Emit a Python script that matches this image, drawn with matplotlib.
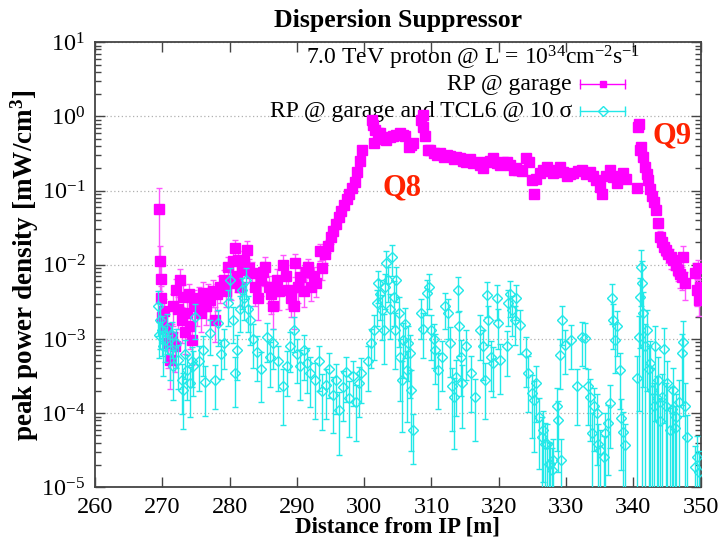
import numpy as np
import matplotlib
matplotlib.use("Agg")
import matplotlib.pyplot as plt
from matplotlib.ticker import LogLocator, NullFormatter

# RP @ garage (x in m, value as log10 of mW/cm3, relative error)
magenta_x = [
    269.55, 269.65, 269.75, 269.85, 269.95, 270.2, 270.5, 270.8, 271.1, 271.4,
    271.6, 271.9, 272.1, 272.4, 272.6, 272.9, 273.1, 273.4, 273.6, 273.9,
    274.1, 274.4, 274.7, 275.1, 275.5, 275.8, 276.1, 276.5, 276.8, 277.1,
    277.5, 277.8, 278.2, 278.6, 279.1, 279.5, 279.8, 280.2, 280.5, 280.8,
    281.1, 281.3, 281.6, 281.8, 282.2, 282.6, 282.9, 283.3, 283.8, 284.2,
    284.6, 285.0, 285.3, 285.8, 286.2, 286.5, 287.0, 287.4, 288.0, 288.4,
    288.7, 289.1, 289.5, 289.7, 290.1, 290.5, 291.0, 291.3, 291.7, 292.1,
    292.5, 292.9, 293.4, 293.8, 294.2, 294.6, 295.0, 295.4, 295.8, 296.2,
    296.6, 297.0, 297.4, 297.8, 298.2, 298.6, 299.0, 299.4, 299.7, 301.1,
    301.3, 301.4, 301.6, 302.0, 302.3, 302.8, 303.3, 303.8, 304.3, 304.8,
    305.3, 305.8, 306.1, 306.6, 307.0, 307.3, 308.5, 308.7, 308.8, 309.0,
    309.5, 309.8, 310.3, 310.8, 311.3, 311.8, 312.3, 312.8, 313.3, 313.7,
    314.2, 314.7, 315.2, 315.7, 316.2, 316.7, 317.2, 317.7, 318.2, 318.7,
    319.2, 319.7, 320.2, 320.7, 321.2, 321.7, 322.2, 322.6, 322.9, 323.5,
    324.1, 324.5, 324.9, 325.2, 325.6, 326.1, 326.6, 327.1, 327.6, 328.1,
    328.6, 329.1, 329.6, 330.1, 330.6, 331.1, 331.7, 332.3, 332.9, 333.6,
    334.0, 334.5, 335.0, 335.3, 335.9, 336.5, 337.0, 337.5, 338.0, 338.5,
    338.9, 340.5, 340.7, 340.8, 341.0, 341.2, 341.5, 341.7, 342.0, 342.2,
    342.5, 342.7, 343.0, 343.4, 343.6, 344.0, 344.3, 344.5, 344.9, 345.2,
    345.6, 345.9, 346.3, 346.7, 347.0, 347.2, 347.4, 347.7, 349.2, 349.4,
    349.6, 349.7, 349.9,
]
magenta_exp = [
    -1.25, -1.95, -2.19, -2.45, -2.70, -2.62, -2.85, -3.05, -3.28, -2.97,
    -2.56, -3.10, -2.34, -2.60, -2.20, -2.75, -2.43, -2.90, -2.65, -2.40,
    -2.83, -3.01, -2.50, -2.56, -2.45, -2.65, -2.38, -2.55, -2.40, -2.47,
    -2.35, -2.74, -2.40, -2.30, -2.20, -2.35, -2.03, -2.25, -1.95, -1.78,
    -2.15, -1.94, -2.30, -2.07, -1.95, -1.80, -2.05, -2.11, -2.30, -2.45,
    -2.20, -2.10, -2.03, -2.30, -2.40, -2.56, -2.20, -2.35, -2.00, -2.15,
    -2.34, -2.45, -2.56, -1.98, -2.30, -2.16, -2.35, -2.10, -2.03, -2.30,
    -2.15, -2.25, -1.82, -2.05, -1.85, -1.75, -1.62, -1.55, -1.45, -1.35,
    -1.28, -1.20, -1.12, -1.05, -0.97, -0.88, -0.75, -0.60, -0.45, -0.05,
    -0.12, -0.36, -0.18, -0.22, -0.23, -0.30, -0.32, -0.28, -0.27, -0.25,
    -0.23, -0.25, -0.27, -0.41, -0.38, -0.36, -0.05, 0.02, -0.14, -0.27,
    -0.45, -0.45, -0.50, -0.52, -0.50, -0.55, -0.52, -0.54, -0.57, -0.55,
    -0.56, -0.60, -0.61, -0.58, -0.63, -0.61, -0.66, -0.70, -0.62, -0.60,
    -0.56, -0.63, -0.65, -0.62, -0.61, -0.66, -0.72, -0.70, -0.72, -0.74,
    -0.56, -0.62, -0.86, -1.04, -0.85, -0.77, -0.72, -0.68, -0.74, -0.77,
    -0.72, -0.68, -0.75, -0.81, -0.78, -0.77, -0.74, -0.72, -0.78, -0.75,
    -0.80, -0.86, -0.95, -1.04, -0.80, -0.72, -0.82, -0.90, -0.80, -0.77,
    -0.85, -0.97, -0.14, -0.10, -0.45, -0.41, -0.55, -0.68, -0.78, -0.86,
    -0.98, -1.08, -1.15, -1.26, -1.44, -1.62, -1.70, -1.76, -1.80, -1.85,
    -1.90, -1.94, -2.00, -2.07, -2.12, -2.16, -1.89, -2.25, -2.11, -2.34,
    -2.05, -2.47, -2.30,
]
magenta_err = [
    0.9, 0.6, 0.5, 0.45, 0.4, 0.45, 0.5, 0.55, 0.6, 0.5,
    0.45, 0.55, 0.4, 0.45, 0.4, 0.5, 0.45, 0.5, 0.45, 0.4,
    0.5, 0.55, 0.45, 0.45, 0.4, 0.45, 0.4, 0.45, 0.4, 0.45,
    0.4, 0.5, 0.4, 0.4, 0.35, 0.4, 0.35, 0.4, 0.35, 0.3,
    0.4, 0.35, 0.45, 0.35, 0.35, 0.3, 0.35, 0.4, 0.45, 0.5,
    0.4, 0.35, 0.35, 0.4, 0.45, 0.5, 0.4, 0.45, 0.35, 0.4,
    0.45, 0.45, 0.5, 0.35, 0.4, 0.35, 0.4, 0.35, 0.3, 0.35,
    0.3, 0.35, 0.25, 0.3, 0.25, 0.2, 0.2, 0.18, 0.15, 0.15,
    0.12, 0.12, 0.1, 0.1, 0.08, 0.08, 0.07, 0.06, 0.06, 0.05,
    0.05, 0.06, 0.05, 0.05, 0.05, 0.06, 0.05, 0.05, 0.05, 0.05,
    0.05, 0.05, 0.05, 0.06, 0.06, 0.06, 0.05, 0.05, 0.05, 0.05,
    0.06, 0.06, 0.05, 0.05, 0.05, 0.05, 0.05, 0.05, 0.06, 0.05,
    0.05, 0.06, 0.06, 0.05, 0.06, 0.06, 0.06, 0.07, 0.06, 0.06,
    0.05, 0.06, 0.06, 0.06, 0.06, 0.06, 0.07, 0.07, 0.07, 0.07,
    0.05, 0.06, 0.08, 0.1, 0.08, 0.07, 0.07, 0.06, 0.07, 0.07,
    0.07, 0.06, 0.07, 0.08, 0.07, 0.07, 0.07, 0.07, 0.07, 0.07,
    0.07, 0.08, 0.09, 0.1, 0.07, 0.07, 0.08, 0.08, 0.07, 0.07,
    0.06, 0.06, 0.05, 0.05, 0.05, 0.05, 0.06, 0.06, 0.07, 0.08,
    0.08, 0.1, 0.1, 0.12, 0.15, 0.2, 0.2, 0.25, 0.2, 0.25,
    0.3, 0.25, 0.3, 0.3, 0.35, 0.35, 0.4, 0.4, 0.35, 0.4,
    0.3, 0.4, 0.35,
]

# RP @ garage and TCL6 @ 10 sigma
cyan_x = [
    269.4, 269.55, 269.7, 269.9, 270.1, 270.4, 270.7, 271.1, 271.4, 271.6,
    272.0, 272.4, 272.9, 273.1, 273.4, 273.6, 274.1, 274.4, 274.6, 274.9,
    275.5, 276.1, 276.4, 277.1, 277.8, 278.3, 278.7, 279.1, 279.8, 280.1,
    280.5, 280.8, 281.1, 281.5, 281.8, 282.2, 282.5, 282.8, 283.0, 283.5,
    284.0, 284.7, 285.5, 286.0, 286.5, 287.2, 288.0, 288.5, 289.0, 289.5,
    290.0, 290.5, 291.0, 291.5, 292.0, 292.7, 293.3, 293.8, 294.3, 294.8,
    295.3, 295.8, 296.3, 296.8, 297.3, 297.8, 298.3, 298.8, 299.2, 299.6,
    300.5, 301.0, 301.4, 301.9, 302.1, 302.4, 302.6, 302.9, 303.1, 303.3,
    303.6, 303.9, 304.1, 304.4, 304.6, 304.8, 305.1, 305.3, 305.6, 305.8,
    306.0, 306.3, 306.5, 306.8, 307.0, 307.3, 308.5, 308.8, 309.3, 309.6,
    310.0, 310.3, 310.5, 311.0, 311.5, 312.0, 312.5, 312.8, 313.1, 313.3,
    313.6, 313.9, 314.1, 314.4, 314.6, 315.2, 315.9, 316.4, 317.2, 317.7,
    318.0, 318.2, 318.4, 318.9, 319.2, 319.7, 319.9, 320.2, 321.2, 321.4,
    321.7, 321.9, 322.4, 322.6, 323.1, 324.1, 324.4, 324.9, 325.2, 325.6,
    326.0, 326.4, 326.6, 326.9, 327.1, 327.4, 327.6, 327.9, 328.1, 328.6,
    328.8, 329.1, 329.3, 329.4, 329.8, 330.8, 331.6, 332.3, 332.8, 333.3,
    333.6, 333.8, 334.1, 334.6, 334.8, 335.0, 335.6, 335.8, 336.3, 336.5,
    336.8, 337.0, 337.3, 337.5, 338.0, 338.2, 338.5, 338.7, 340.5, 340.8,
    341.0, 341.2, 341.3, 341.5, 341.7, 342.0, 342.3, 342.5, 342.7, 343.0,
    343.2, 343.5, 343.7, 344.0, 344.2, 344.5, 344.8, 345.0, 345.4, 345.7,
    345.9, 346.2, 346.4, 346.8, 347.2, 347.4, 347.6, 347.9, 349.2, 349.5,
    349.8,
]
cyan_exp = [
    -2.56, -2.95, -2.74, -2.88, -3.10, -3.01, -2.85, -3.15, -2.95, -3.37,
    -3.05, -3.28, -3.55, -3.69, -3.20, -3.42, -3.60, -3.30, -3.37, -2.70,
    -3.30, -3.15, -3.58, -2.92, -3.55, -2.79, -3.20, -3.06, -2.52, -2.20,
    -2.75, -3.46, -3.15, -2.60, -2.34, -2.45, -2.20, -2.60, -2.74, -3.00,
    -3.17, -3.40, -2.97, -3.25, -3.06, -3.30, -3.64, -3.37, -3.10, -2.88,
    -3.20, -3.37, -3.15, -3.33, -3.46, -3.55, -3.30, -3.70, -3.62, -3.40,
    -3.75, -3.55, -3.96, -3.65, -3.45, -3.80, -3.50, -3.85, -3.60, -3.46,
    -3.30, -3.05, -2.88, -2.52, -2.25, -2.40, -2.61, -2.88, -2.30, -1.98,
    -2.20, -2.60, -1.89, -2.43, -2.88, -2.20, -2.65, -3.24, -3.55, -3.01,
    -2.80, -3.42, -3.05, -3.19, -3.69, -4.23, -2.65, -2.86, -2.38, -2.30,
    -2.88, -3.00, -3.15, -3.42, -3.24, -2.56, -2.65, -3.06, -3.64, -3.78,
    -3.51, -2.34, -2.83, -3.24, -3.60, -3.10, -3.46, -3.78, -2.88, -3.10,
    -3.55, -2.41, -2.74, -3.24, -3.33, -2.45, -2.79, -3.28, -3.10, -2.52,
    -2.40, -2.61, -2.74, -2.45, -2.81, -3.19, -3.46, -3.73, -3.82, -3.60,
    -4.05, -4.32, -4.23, -4.41, -4.41, -4.68, -4.68, -4.77, -4.63, -3.91,
    -4.09, -3.22, -4.63, -2.74, -3.08, -3.01, -3.64, -2.97, -2.99, -3.64,
    -3.78, -4.27, -3.91, -4.00, -4.41, -4.50, -4.59, -4.27, -4.14, -3.87,
    -2.45, -2.74, -3.01, -2.83, -3.42, -4.07, -4.25, -4.43, -3.53, -2.97,
    -2.43, -2.03, -2.25, -2.65, -3.10, -2.88, -3.40, -3.33, -3.69, -3.90,
    -3.10, -3.80, -3.55, -4.10, -3.78, -3.13, -3.90, -3.60, -4.23, -3.95,
    -3.69, -4.20, -4.05, -3.85, -3.19, -3.04, -3.90, -4.32, -4.72, -4.59,
    -4.80,
]
cyan_err = [
    0.6, 0.5, 0.6, 0.55, 0.6, 0.5, 0.55, 0.6, 0.5, 0.65,
    0.55, 0.6, 0.65, 0.7, 0.55, 0.6, 0.65, 0.55, 0.6, 0.5,
    0.6, 0.55, 0.65, 0.5, 0.6, 0.5, 0.55, 0.55, 0.5, 0.45,
    0.5, 0.65, 0.6, 0.5, 0.45, 0.5, 0.45, 0.5, 0.55, 0.6,
    0.6, 0.65, 0.55, 0.6, 0.55, 0.6, 0.7, 0.6, 0.55, 0.5,
    0.6, 0.65, 0.6, 0.6, 0.65, 0.7, 0.6, 0.7, 0.65, 0.6,
    0.7, 0.65, 0.75, 0.65, 0.6, 0.7, 0.6, 0.7, 0.65, 0.6,
    0.6, 0.55, 0.6, 0.5, 0.45, 0.55, 0.6, 0.65, 0.5, 0.45,
    0.5, 0.6, 0.45, 0.6, 0.7, 0.5, 0.65, 0.75, 0.8, 0.7,
    0.65, 0.8, 0.7, 0.75, 0.85, 0.65, 0.55, 0.6, 0.5, 0.5,
    0.6, 0.6, 0.65, 0.7, 0.65, 0.5, 0.55, 0.65, 0.75, 0.8,
    0.7, 0.5, 0.6, 0.7, 0.75, 0.65, 0.7, 0.75, 0.6, 0.65,
    0.7, 0.5, 0.55, 0.65, 0.65, 0.5, 0.55, 0.65, 0.6, 0.5,
    0.5, 0.55, 0.55, 0.5, 0.6, 0.65, 0.7, 0.75, 0.8, 0.7,
    0.8, 0.85, 0.8, 0.9, 0.85, 0.95, 0.9, 1.0, 0.9, 0.75,
    0.8, 0.65, 0.9, 0.55, 0.6, 0.6, 0.7, 0.6, 0.6, 0.7,
    0.75, 0.85, 0.75, 0.8, 0.85, 0.9, 0.9, 0.85, 0.8, 0.75,
    0.55, 0.6, 0.65, 0.6, 0.7, 0.8, 0.85, 0.9, 1.0, 0.9,
    0.8, 0.7, 1.0, 0.9, 1.0, 0.85, 1.0, 1.0, 1.0, 1.0,
    0.9, 1.0, 1.0, 1.0, 1.0, 0.9, 1.0, 1.0, 1.0, 1.0,
    1.0, 1.0, 1.0, 1.0, 0.8, 0.9, 1.0, 1.0, 0.9, 0.9,
    0.95,
]

y_ticks = [1e-5, 1e-4, 1e-3, 1e-2, 1e-1, 1e0, 1e1]

MAGENTA = "#ff00ff"
CYAN = "#22e8e8"
RED = "#ff2200"

plt.rcParams["font.family"] = ["Liberation Serif", "DejaVu Serif"]
plt.rcParams["mathtext.fontset"] = "custom"
plt.rcParams["mathtext.rm"] = "Liberation Serif"
plt.rcParams["mathtext.it"] = "Liberation Serif:italic"
plt.rcParams["mathtext.bf"] = "Liberation Serif:bold"


def yerr_of(vals, rel):
    vals = np.asarray(vals)
    rel = np.asarray(rel)
    lo = np.where(rel >= 1.0, vals * 0.99999, rel * vals)
    return [lo, rel * vals]


fig = plt.figure(figsize=(7.24, 5.4), dpi=100)
ax = fig.add_axes([0.1312, 0.0976, 0.8366, 0.8243])

m_y = 10.0 ** np.array(magenta_exp)
c_y = 10.0 ** np.array(cyan_exp)

ax.errorbar(magenta_x, m_y, yerr=yerr_of(m_y, magenta_err), fmt="s", ms=6.5,
            mfc=MAGENTA, mec=MAGENTA, ecolor="#ff55ff", elinewidth=1,
            capsize=2.5, capthick=1, zorder=3)
ax.errorbar(cyan_x, c_y, yerr=yerr_of(c_y, cyan_err), fmt="D", ms=4.8,
            mfc="none", mec=CYAN, mew=1, ecolor=CYAN, elinewidth=1,
            capsize=2.5, capthick=1, zorder=4)

ax.set_yscale("log")
ax.set_xlim(260, 350)
ax.set_ylim(1e-5, 10)
ax.set_xticks(range(260, 351, 10))
ax.set_yticks(y_ticks)
ax.yaxis.set_minor_locator(LogLocator(base=10, subs=range(2, 10), numticks=20))
ax.yaxis.set_minor_formatter(NullFormatter())
ax.tick_params(which="both", direction="in", top=True, right=True,
               labelsize=17.5, color="#444444")
ax.tick_params(axis="x", pad=7)
ax.tick_params(axis="y", pad=7)
ax.tick_params(which="major", length=7, width=1)
ax.tick_params(which="minor", length=4, width=1)
ax.grid(True, axis="y", which="major", linestyle=(0, (1, 2)),
        color="#b0b0b0", linewidth=0.9)
ax.set_axisbelow(True)
for sp in ax.spines.values():
    sp.set_linewidth(1.3)
    sp.set_color("#444444")

ax.set_title("Dispersion Suppressor", fontweight="bold", fontsize=18.5, pad=11)
ax.set_xlabel("Distance from IP [m]", fontweight="bold", fontsize=16.5, labelpad=-1)
ax.set_ylabel("peak power density [mW/cm$^\\mathbf{3}$]", fontweight="bold",
              fontsize=19.5, labelpad=0)

# key, gnuplot style: text right-aligned, sample on the right
ax.text(0.900, 0.9645, r"7.0 TeV proton @ L = 10$^{34}$cm$^{-2}$s$^{-1}$",
        transform=ax.transAxes, ha="right", va="center", fontsize=17)
ax.text(0.7875, 0.906, "RP @ garage", transform=ax.transAxes,
        ha="right", va="center", fontsize=17)
ax.text(0.7875, 0.845, "RP @ garage and TCL6 @ 10 σ", transform=ax.transAxes,
        ha="right", va="center", fontsize=17)
for yy, col, mk, face in [(0.906, MAGENTA, "s", MAGENTA), (0.845, CYAN, "D", "none")]:
    ax.plot([0.8008, 0.8751], [yy, yy], color=col, lw=1, transform=ax.transAxes)
    ax.plot([0.8008, 0.8751], [yy, yy], ls="none", marker="|", ms=7, mew=1,
            color=col, transform=ax.transAxes)
    ax.plot([0.838], [yy], ls="none", marker=mk, ms=4.8, mfc=face, mec=col,
            transform=ax.transAxes)

ax.text(305.6, 10 ** -0.965, "Q8", color=RED, fontsize=22, fontweight="bold",
        ha="center", va="center", zorder=5)
ax.text(345.8, 10 ** -0.264, "Q9", color=RED, fontsize=22, fontweight="bold",
        ha="center", va="center", zorder=5)

fig.savefig("out.png", dpi=100)
